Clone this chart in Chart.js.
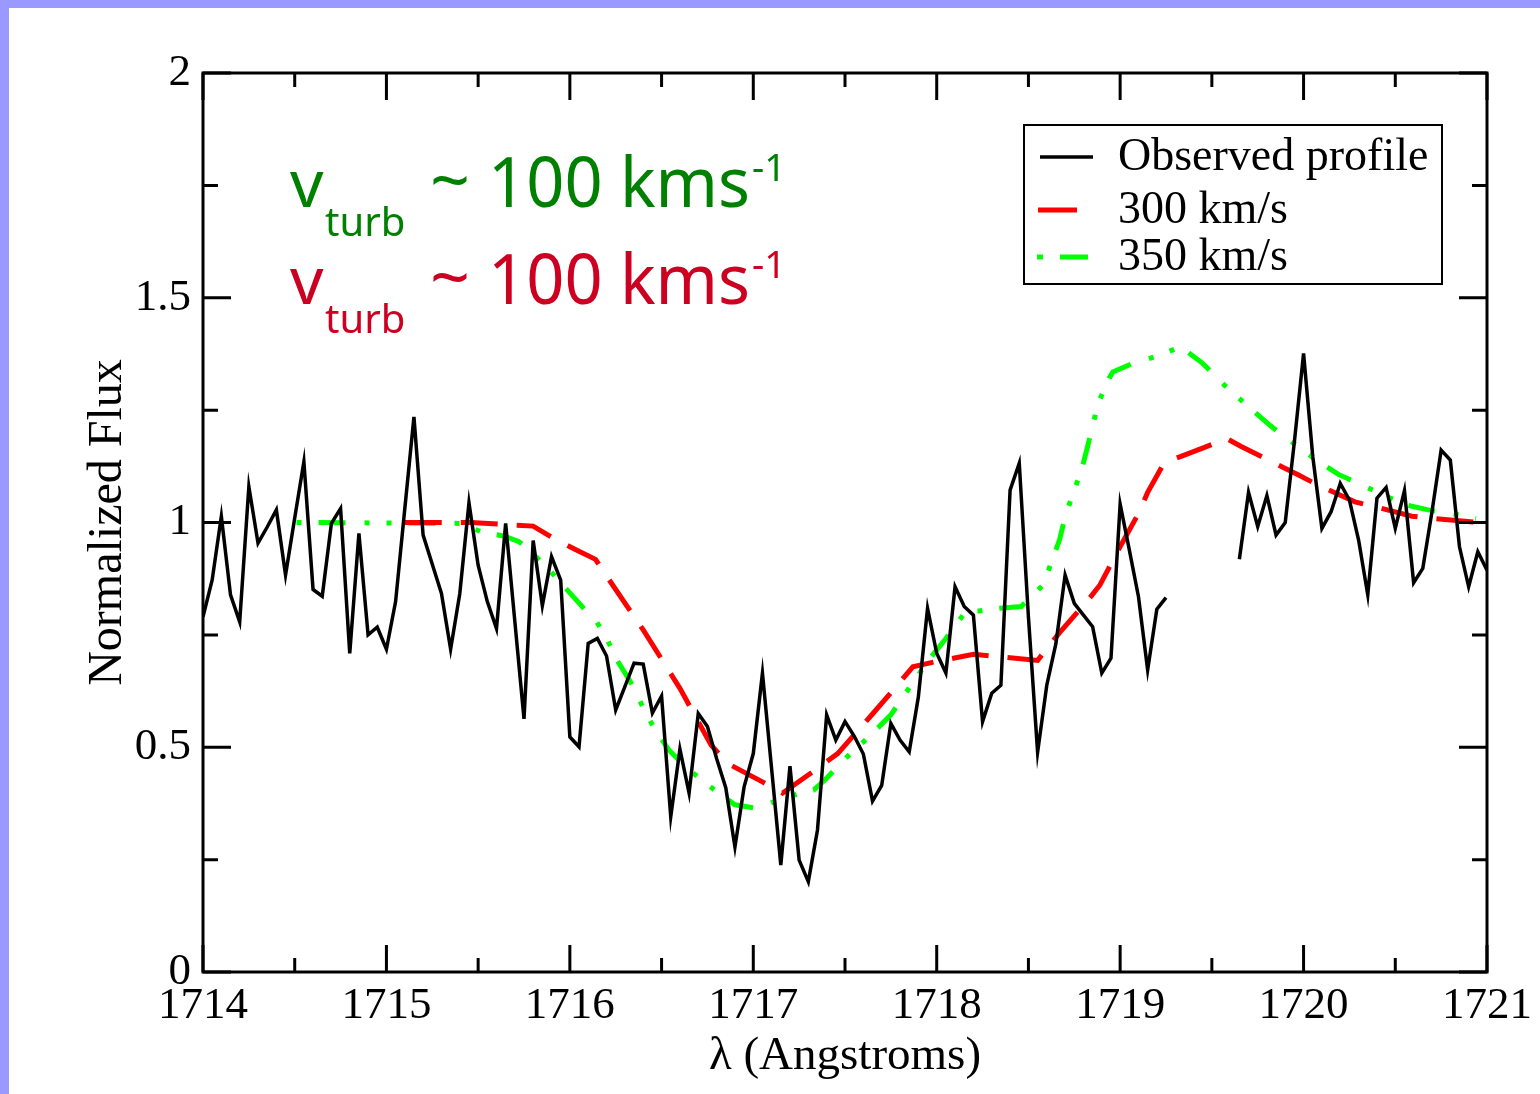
<!DOCTYPE html>
<html lang="en">
<head>
<meta charset="UTF-8">
<title>Normalized Flux</title>
<script src="https://cdn.jsdelivr.net/npm/chart.js@4"></script>
<style>
  html, body { margin: 0; padding: 0; background: #fff; }
  canvas { display: block; }
</style>
</head>
<body>
<canvas id="fluxChart" width="1540" height="1094"></canvas>
<script>
// observed spectrum, sampled every 0.05 A from 1714.00 (null = no data)
const obsStart = 1714.0;
const obsStep = 0.05;
const obsFlux = [
  0.79, 0.872, 1.014, 0.839, 0.779, 1.080, 0.954, 0.99, 1.028, 0.883,
  1.01, 1.135, 0.851, 0.836, 0.998, 1.031, 0.709, 0.976, 0.750, 0.767,
  0.718, 0.824, 1.03, 1.235, 0.972, 0.907, 0.842, 0.718, 0.842, 1.044,
  0.905, 0.824, 0.764, 0.998, 0.78, 0.563, 0.96, 0.815, 0.924, 0.872,
  0.523, 0.501, 0.731, 0.742, 0.703, 0.583, 0.635, 0.687, 0.685, 0.576,
  0.614, 0.345, 0.496, 0.398, 0.575, 0.546, 0.475, 0.41, 0.278, 0.412,
  0.486, 0.665, 0.452, 0.238, 0.458, 0.249, 0.201, 0.316, 0.572, 0.516,
  0.557, 0.525, 0.485, 0.38, 0.415, 0.553, 0.516, 0.490, 0.612, 0.809,
  0.709, 0.665, 0.857, 0.813, 0.794, 0.557, 0.620, 0.638, 1.072, 1.132,
  0.790, 0.489, 0.638, 0.731, 0.883, 0.820, 0.794, 0.768, 0.665, 0.698,
  1.041, 0.939, 0.835, 0.672, 0.807, 0.833, null, null, null, null,
  null, null, null, 0.918, 1.067, 0.991, 1.060, 0.972, 1.000, 1.180,
  1.376, 1.147, 0.987, 1.024, 1.087, 1.050, 0.961, 0.839, 1.054, 1.078,
  0.987, 1.071, 0.866, 0.898, 1.024, 1.161, 1.139, 0.946, 0.857, 0.935,
  0.894
];

// 300 km/s model
const m300Lambda = [1715.10, 1715.46, 1715.80, 1715.91, 1716.03, 1716.14, 1716.19, 1716.40, 1716.60, 1716.77,
  1716.86, 1717.05, 1717.16, 1717.35, 1717.46, 1717.65, 1717.75, 1717.87, 1717.99, 1718.20,
  1718.55, 1718.58, 1718.67, 1718.84, 1718.89, 1718.99, 1719.10, 1719.15, 1719.24, 1719.35,
  1719.46, 1719.58, 1719.66, 1719.77, 1719.97, 1720.08, 1720.28, 1720.39, 1720.59, 1720.70, 1720.96];
const m300Flux = [1.0, 1.0, 0.992, 0.965, 0.94, 0.918, 0.887, 0.761, 0.631, 0.505,
  0.464, 0.423, 0.398, 0.453, 0.486, 0.574, 0.621, 0.679, 0.690, 0.707,
  0.693, 0.709, 0.755, 0.835, 0.861, 0.939, 1.020, 1.067, 1.133, 1.150,
  1.167, 1.187, 1.169, 1.147, 1.106, 1.083, 1.046, 1.035, 1.014, 1.009, 1.0];

// 350 km/s model
const m350Lambda = [1714.51, 1715.40, 1715.52, 1715.64, 1715.72, 1715.76, 1715.88, 1715.99, 1716.10, 1716.146,
  1716.197, 1716.255, 1716.33, 1716.39, 1716.46, 1716.54, 1716.64, 1716.76, 1716.90, 1717.02,
  1717.14, 1717.26, 1717.33, 1717.39, 1717.51, 1717.64, 1717.75, 1717.79, 1717.87, 1717.96,
  1718.05, 1718.16, 1718.23, 1718.34, 1718.46, 1718.58, 1718.63, 1718.67, 1718.70, 1718.74,
  1718.79, 1718.82, 1718.85, 1718.88, 1718.94, 1718.96, 1719.07, 1719.20, 1719.33, 1719.45,
  1719.57, 1719.69, 1719.82, 1719.94, 1720.07, 1720.19, 1720.32, 1720.44, 1720.56, 1720.68,
  1720.82, 1720.94];
const m350Flux = [1.0, 0.998, 0.979, 0.970, 0.958, 0.946, 0.898, 0.848, 0.798, 0.779,
  0.746, 0.695, 0.646, 0.596, 0.542, 0.494, 0.453, 0.414, 0.372, 0.364,
  0.383, 0.398, 0.405, 0.427, 0.478, 0.527, 0.572, 0.596, 0.644, 0.696,
  0.742, 0.803, 0.803, 0.809, 0.813, 0.861, 0.917, 0.962, 1.013, 1.061,
  1.117, 1.165, 1.215, 1.265, 1.321, 1.335, 1.354, 1.370, 1.391, 1.354,
  1.305, 1.261, 1.215, 1.178, 1.139, 1.107, 1.083, 1.060, 1.039, 1.028,
  1.019, 1.009];

const xMajor = [1714, 1715, 1716, 1717, 1718, 1719, 1720, 1721];
const xMinor = [1714.5, 1715.5, 1716.5, 1717.5, 1718.5, 1719.5, 1720.5];
const yMajor = [0, 0.5, 1, 1.5, 2];
const yMinor = [0.25, 0.75, 1.25, 1.75];

const legendLabels = ['Observed profile', '300 km/s', '350 km/s'];

const obsPoints = obsFlux.map((v, i) => ({ x: obsStart + i * obsStep, y: v }));
const m300Points = m300Lambda.map((x, i) => ({ x: x, y: m300Flux[i] }));
const m350Points = m350Lambda.map((x, i) => ({ x: x, y: m350Flux[i] }));

const serif = '"Liberation Serif", "DejaVu Serif", serif';
const dashes = { red: [37, 19], green: [5, 17, 27, 19, 5, 17] };

// lavender page border
const pageFrame = {
  id: 'pageFrame',
  beforeDraw(chart) {
    const c = chart.ctx;
    c.save();
    c.fillStyle = '#9999ff';
    c.fillRect(0, 0, chart.width, chart.height);
    c.fillStyle = '#ffffff';
    c.fillRect(9, 8, chart.width - 9, chart.height - 8);
    c.restore();
  }
};

// box frame with inward ticks on all four sides
const innerTicks = {
  id: 'innerTicks',
  afterDraw(chart) {
    const c = chart.ctx;
    const a = chart.chartArea;
    const xs = chart.scales.x, ys = chart.scales.y;
    c.save();
    c.strokeStyle = '#000';
    c.lineWidth = 3;
    c.lineCap = 'butt';
    c.beginPath();
    const tickX = (v, len) => {
      const px = xs.getPixelForValue(v);
      c.moveTo(px, a.bottom); c.lineTo(px, a.bottom - len);
      c.moveTo(px, a.top); c.lineTo(px, a.top + len);
    };
    const tickY = (v, len) => {
      const py = ys.getPixelForValue(v);
      c.moveTo(a.left, py); c.lineTo(a.left + len, py);
      c.moveTo(a.right, py); c.lineTo(a.right - len, py);
    };
    xMajor.forEach(v => tickX(v, 27));
    xMinor.forEach(v => tickX(v, 14));
    yMajor.forEach(v => tickY(v, 28));
    yMinor.forEach(v => tickY(v, 15));
    c.stroke();
    c.strokeRect(a.left, a.top, a.right - a.left, a.bottom - a.top);
    c.restore();
  }
};

// legend box and the v_turb notes
const notes = {
  id: 'notes',
  afterDraw(chart) {
    const c = chart.ctx;
    c.save();
    // legend
    c.fillStyle = '#fff';
    c.fillRect(1024, 125, 418, 159);
    c.strokeStyle = '#000';
    c.lineWidth = 2;
    c.strokeRect(1024, 125, 418, 159);

    const rows = [157, 210, 257];
    c.lineCap = 'butt';
    c.lineWidth = 3.5;
    c.strokeStyle = '#000';
    c.beginPath(); c.moveTo(1040, rows[0]); c.lineTo(1093, rows[0]); c.stroke();
    c.lineWidth = 5;
    c.strokeStyle = '#ff0000';
    c.beginPath(); c.moveTo(1038, rows[1]); c.lineTo(1077, rows[1]); c.stroke();
    c.strokeStyle = '#00ff00';
    c.beginPath(); c.moveTo(1037, rows[2]); c.lineTo(1043, rows[2]);
    c.moveTo(1060, rows[2]); c.lineTo(1088, rows[2]); c.stroke();

    c.fillStyle = '#000';
    c.font = '46px ' + serif;
    c.textBaseline = 'middle';
    c.textAlign = 'left';
    legendLabels.forEach((t, i) => c.fillText(t, 1118, rows[i] + 1));

    // v_turb ~ 100 kms^-1
    const sans = '"Noto Sans", "DejaVu Sans", sans-serif';
    const writeNote = (color, base) => {
      c.fillStyle = color;
      c.textBaseline = 'alphabetic';
      c.font = '66px ' + sans;
      c.fillText('v', 290, base);
      c.font = '40px ' + sans;
      c.fillText('turb', 325, base + 29);
      c.font = '70px ' + sans;
      c.fillText('~', 430, base - 2);
      c.save();
      c.translate(488, base);
      const w = c.measureText('100 kms').width;
      c.scale(262 / w, 1);
      c.fillText('100 kms', 0, 0);
      c.restore();
      c.font = '38px ' + sans;
      c.fillText('-1', 752, base - 26);
    };
    writeNote('#008000', 207);
    writeNote('#cc0020', 304);
    c.restore();
  }
};

Chart.defaults.color = '#000';
Chart.defaults.font.family = serif;

new Chart(document.getElementById('fluxChart'), {
  type: 'line',
  data: {
    datasets: [{
      label: legendLabels[0],
      data: obsPoints,
      borderColor: '#000000',
      borderWidth: 3.5,
      pointRadius: 0,
      tension: 0,
      spanGaps: false
    }, {
      label: legendLabels[1],
      data: m300Points,
      borderColor: '#ff0000',
      borderWidth: 5,
      borderDash: dashes.red,
      pointRadius: 0,
      tension: 0
    }, {
      label: legendLabels[2],
      data: m350Points,
      borderColor: '#00ff00',
      borderWidth: 5,
      borderDash: dashes.green,
      pointRadius: 0,
      tension: 0
    }]
  },
  options: {
    responsive: false,
    animation: false,
    devicePixelRatio: 1,
    layout: { padding: { left: 0, top: 73, right: 53, bottom: 0 } },
    plugins: {
      legend: { display: false },
      tooltip: { enabled: false }
    },
    scales: {
      x: {
        type: 'linear',
        min: 1714,
        max: 1721,
        afterFit: s => { s.height = 122; },
        grid: { display: false, drawTicks: false },
        border: { display: false },
        ticks: {
          stepSize: 1,
          padding: 7,
          font: { size: 45 },
          maxRotation: 0,
          callback: v => String(v)
        },
        title: {
          display: true,
          text: 'λ (Angstroms)',
          font: { size: 47 },
          padding: { top: 0, bottom: 9 }
        }
      },
      y: {
        min: 0,
        max: 2,
        afterFit: s => { s.width = 203; },
        grid: { display: false, drawTicks: false },
        border: { display: false },
        ticks: {
          stepSize: 0.5,
          padding: 12,
          font: { size: 45 },
          callback: v => String(v)
        },
        title: {
          display: true,
          text: 'Normalized Flux',
          font: { size: 48 },
          padding: { top: 80, bottom: 0 }
        }
      }
    }
  },
  plugins: [pageFrame, innerTicks, notes]
});
</script>
</body>
</html>
